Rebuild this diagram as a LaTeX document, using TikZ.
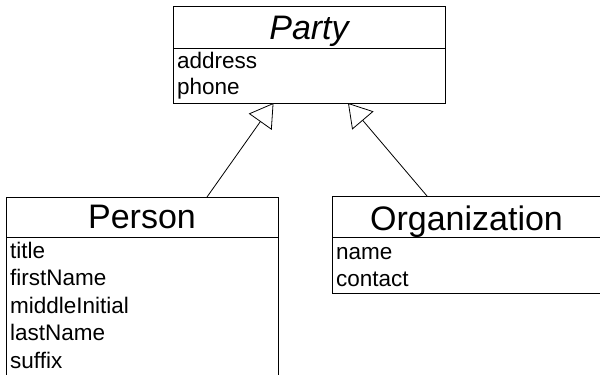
\documentclass[tikz,border=0pt]{standalone}
\usepackage{fontspec}
\setmainfont{Liberation Sans}
\usetikzlibrary{arrows.meta,calc}
\tikzset{
  classbox/.style={draw=black, line width=1pt, fill=none, inner sep=0pt, outer sep=0pt},
  sepline/.style={draw=black, line width=1pt},
  titletext/.style={inner sep=0pt, anchor=base, font=\fontsize{34}{37}\selectfont},
  attrtext/.style={inner sep=0pt, anchor=base west, font=\fontsize{22.5}{26}\selectfont},
  inherit/.style={draw=black, line width=0.8pt, -{Triangle[open, length=23pt, width=28pt, line width=0.8pt, fill=white]}}
}
\begin{document}
\begin{tikzpicture}[x=1pt,y=-1pt]
\useasboundingbox (0,0) rectangle (600,375);
% Party
\node[classbox, minimum width=272pt, minimum height=97pt] (party) at (309,54.5) {};
\node[titletext] (partyT) at (309,39) {\itshape Party};
\draw[sepline] (173,48) -- (445,48);
\node[attrtext] (partyA1) at (177,68.5) {address};
\node[attrtext] (partyA2) at (177,94.5) {phone};
% Person
\node[classbox, minimum width=272pt, minimum height=200pt] (person) at (142,297) {};
\node[titletext] (personT) at (142,228.5) {Person};
\draw[sepline] (6,237) -- (278,237);
\node[attrtext] (personA1) at (10,258.5) {title};
\node[attrtext] (personA2) at (10,285.5) {firstName};
\node[attrtext] (personA3) at (10,313) {middleInitial};
\node[attrtext] (personA4) at (10,340.5) {lastName};
\node[attrtext] (personA5) at (10,368) {suffix};
% Organization
\node[classbox, minimum width=272pt, minimum height=97pt] (org) at (468,244.5) {};
\node[titletext] (orgT) at (466.5,230) {Organization};
\draw[sepline] (332,237) -- (604,237);
\node[attrtext] (orgA1) at (336,259.5) {name};
\node[attrtext] (orgA2) at (336,286.5) {contact};
% generalisations
\draw[inherit] ($(person.north west)+(201,0)$) -- ($(party.south west)+(100.5,0)$);
\draw[inherit] ($(org.north west)+(95,0)$) -- ($(party.south west)+(175,0)$);
\end{tikzpicture}
\end{document}
